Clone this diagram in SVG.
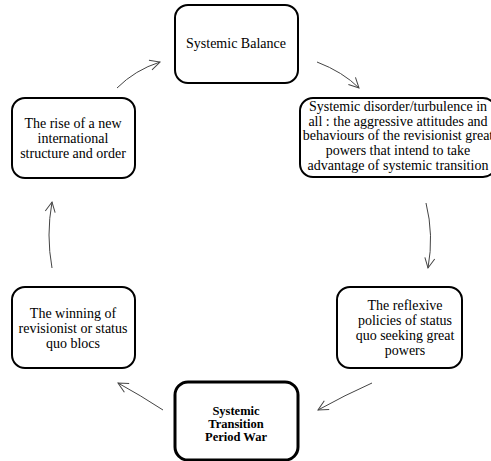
<svg xmlns="http://www.w3.org/2000/svg" width="491" height="461" viewBox="0 0 491 461">
<style>
.box{fill:#fff;stroke:#000;stroke-width:2}
.bold{stroke-width:3}
text{font-family:'Liberation Serif','DejaVu Serif','Noto Serif','Times New Roman',Times,serif;fill:#000;text-anchor:middle}
.t{font-size:14px}
.tb{font-size:12.5px;font-weight:bold}
.c{fill:none;stroke:#444;stroke-width:1}
</style>
<defs>
<marker id="ah" viewBox="0 0 12 12" refX="11" refY="6" markerWidth="12" markerHeight="12" markerUnits="userSpaceOnUse" orient="auto">
<path d="M1,1 L11,6 L1,11" fill="none" stroke="#444" stroke-width="1"/>
</marker>
</defs>
<rect width="491" height="461" fill="#fff"/>
<g id="connectors">
<path class="c" d="M117,88 Q135,70 160,62" marker-end="url(#ah)"/>
<path class="c" d="M317,62 Q343,72 359,88" marker-end="url(#ah)"/>
<path class="c" d="M426,203 Q434,235 428,268" marker-end="url(#ah)"/>
<path class="c" d="M372,383 Q345,395 318,410" marker-end="url(#ah)"/>
<path class="c" d="M163,410 Q140,395 118,383" marker-end="url(#ah)"/>
<path class="c" d="M52,268 Q46,235 52,202" marker-end="url(#ah)"/>
</g>
<g id="n-balance">
<rect class="box" x="175" y="5" width="123" height="78" rx="13"/>
<text class="t" x="236" y="48">Systemic Balance</text>
</g>
<g id="n-disorder">
<rect class="box" x="300" y="98" width="196" height="79" rx="13"/>
<text class="t" x="398" y="111">Systemic disorder/turbulence in</text>
<text class="t" x="398" y="126">all : the aggressive attitudes and</text>
<text class="t" x="398" y="140">behaviours of the revisionist great</text>
<text class="t" x="398" y="155">powers that intend to take</text>
<text class="t" x="398" y="170">advantage of systemic transition</text>
</g>
<g id="n-reflexive">
<rect class="box" x="337" y="287" width="125" height="81" rx="13"/>
<text class="t" x="405" y="310">The reflexive</text>
<text class="t" x="405" y="325">policies of status</text>
<text class="t" x="405" y="340">quo seeking great</text>
<text class="t" x="405" y="355">powers</text>
</g>
<g id="n-war">
<rect class="box bold" x="175" y="382" width="123" height="78" rx="13"/>
<text class="tb" x="236" y="415">Systemic</text>
<text class="tb" x="236" y="428">Transition</text>
<text class="tb" x="236" y="441">Period War</text>
</g>
<g id="n-winning">
<rect class="box" x="12" y="287" width="123" height="81" rx="13"/>
<text class="t" x="73" y="318">The winning of</text>
<text class="t" x="73" y="333">revisionist or status</text>
<text class="t" x="73" y="348">quo blocs</text>
</g>
<g id="n-rise">
<rect class="box" x="12" y="98" width="123" height="80" rx="13"/>
<text class="t" x="73" y="128">The rise of a new</text>
<text class="t" x="73" y="143">international</text>
<text class="t" x="73" y="158">structure and order</text>
</g>
</svg>
